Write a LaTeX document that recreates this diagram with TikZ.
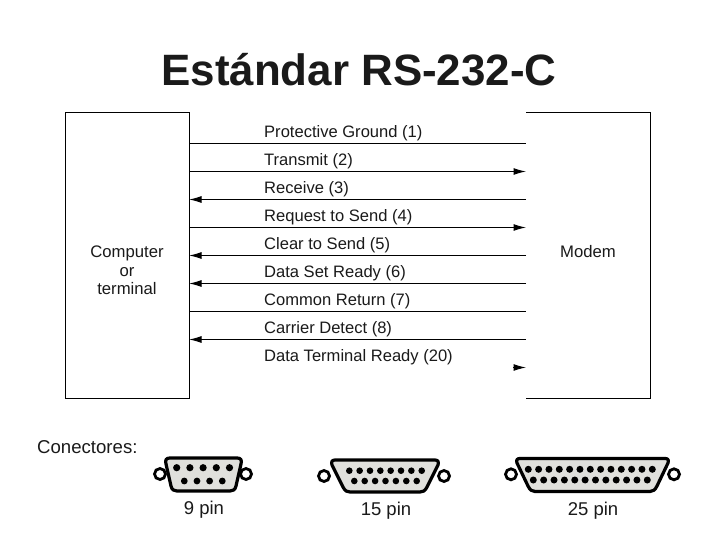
\documentclass[tikz,border=0pt]{standalone}
\usepackage{fontspec}
\setmainfont{Liberation Sans}
\usetikzlibrary{arrows.meta}
\definecolor{ink}{HTML}{1A1A1A}
\definecolor{shell}{HTML}{E0E0DC}
\tikzset{
  x=1pt,y=-1pt,
  box/.style={draw=black,line width=1pt,fill=white},
  bus/.style={draw=black,line width=1pt},
  head/.style={-{Latex[length=12.5pt,width=7pt]}},
  siglabel/.style={anchor=west,inner sep=0pt,font=\fontsize{16.55}{18}\selectfont,text=ink},
  boxlabel/.style={align=center,inner sep=0pt,font=\fontsize{16.7}{18.5}\selectfont,text=ink},
  pinlabel/.style={inner sep=0pt,font=\fontsize{18.5}{20}\selectfont,text=ink},
  ear/.style={draw=black,line width=2.8pt,fill=white},
  shellbody/.style={draw=black,line width=3.2pt,fill=shell,line join=round},
  pin/.style={fill=black,draw=none}
}
\newcommand{\pinrow}[5]{% y, x first, x last, count, radius
  \pgfmathsetmacro{\pinstep}{(#3-#2)/(#4-1)}
  \foreach \k in {1,...,#4}{
    \pgfmathsetmacro{\pinx}{#2+(\k-1)*\pinstep}
    \fill[pin] (\pinx,#1) ellipse[x radius=#5 pt,y radius=#5 pt];
  }
}
\begin{document}
\begin{tikzpicture}
\useasboundingbox (0,0) rectangle (720,540);
\fill[white] (0,0) rectangle (720,540);
\node[inner sep=0pt,font=\bfseries\fontsize{43.9}{50}\selectfont,text=ink] (title) at (359,70) {Estándar RS-232-C};

% terminals
\node[box,minimum width=124pt,minimum height=286pt,anchor=north west,inner sep=0pt,outer sep=0pt] (computer) at (65,112.5) {};
\node[boxlabel] (computertext) at (127,270.5) {Computer\\or\\terminal};
\coordinate (mtl) at (526,112.5);
\coordinate (mtr) at (650,112.5);
\coordinate (mbr) at (650,398.5);
\coordinate (mbl) at (526,398.5);
\draw[bus] (mtl) -- (mtr) -- (mbr) -- (mbl);
\node[boxlabel] (modem) at (588,252) {Modem};

% signal lines
\foreach \n/\y in {a/143.5,b/171.5,c/199.5,d/227.5,e/255.5,f/283.5,g/311.5,h/339.5,i/367.5}{
  \coordinate (L\n) at (189,\y);
  \coordinate (R\n) at (526,\y);
}
\coordinate (Ristart) at (513,367.5);
\draw[bus] (La) -- (Ra);
\draw[bus,head] (Lb) -- (Rb);
\draw[bus,head] (Rc) -- (Lc);
\draw[bus,head] (Ld) -- (Rd);
\draw[bus,head] (Re) -- (Le);
\draw[bus,head] (Rf) -- (Lf);
\draw[bus] (Lg) -- (Rg);
\draw[bus,head] (Rh) -- (Lh);
\draw[bus,head] (Ristart) -- (Ri);

\foreach \n/\y/\t in {s1/133/Protective Ground (1),s2/161/Transmit (2),s3/189/Receive (3),s4/217/Request to Send (4),s5/245/Clear to Send (5),s6/273/Data Set Ready (6),s7/301/Common Return (7),s8/329/Carrier Detect (8),s9/357/Data Terminal Ready (20)}{
  \node[siglabel] (\n) at (264,\y) {\t};
}

\node[anchor=west,inner sep=0pt,font=\fontsize{18.6}{20}\selectfont,text=ink] (conectores) at (37,447) {Conectores:};

% 9 pin
\draw[ear] (160,474) circle (5.5pt);
\draw[ear] (246,474) circle (5.5pt);
\draw[shellbody] (170,458) -- (237,458) .. controls (241,458) and (242,460) .. (241,464) -- (236,486) .. controls (235,490) and (233,491) .. (230,491) -- (177,491) .. controls (174,491) and (172,490) .. (171,486) -- (166,464) .. controls (165,460) and (166,458) .. (170,458) -- cycle;
\pinrow{467.7}{176.7}{229.5}{5}{3.6}
\pinrow{481}{184.3}{222.3}{4}{3.4}
\node[pinlabel] (p9) at (204,510) {9 pin};

% 15 pin
\draw[ear] (324,476) circle (5.5pt);
\draw[ear] (444,476) circle (5.5pt);
\draw[shellbody] (335,460) -- (435,460) .. controls (438,460) and (439,462) .. (438,465) -- (427,487) .. controls (425,491) and (423,492) .. (420,492) -- (350,492) .. controls (347,492) and (345,491) .. (343,487) -- (332,465) .. controls (331,462) and (332,460) .. (335,460) -- cycle;
\pinrow{470.7}{349.3}{421.7}{8}{3.3}
\pinrow{481}{354.3}{416.7}{7}{3.3}
\node[pinlabel] (p15) at (386,511) {15 pin};

% 25 pin
\draw[ear] (511,474.3) circle (5.5pt);
\draw[ear] (674,474.3) circle (5.5pt);
\draw[shellbody] (520,458.5) -- (665,458.5) .. controls (668,458.5) and (669,460) .. (668,463) -- (657,486) .. controls (655,490) and (653,491.5) .. (650,491.5) -- (535,491.5) .. controls (532,491.5) and (530,490) .. (528,486) -- (517,463) .. controls (516,460) and (517,458.5) .. (520,458.5) -- cycle;
\pinrow{469.3}{528.3}{652.3}{13}{3.5}
\pinrow{480}{533.3}{647.3}{12}{3.5}
\node[pinlabel] (p25) at (593,511) {25 pin};
\end{tikzpicture}
\end{document}
